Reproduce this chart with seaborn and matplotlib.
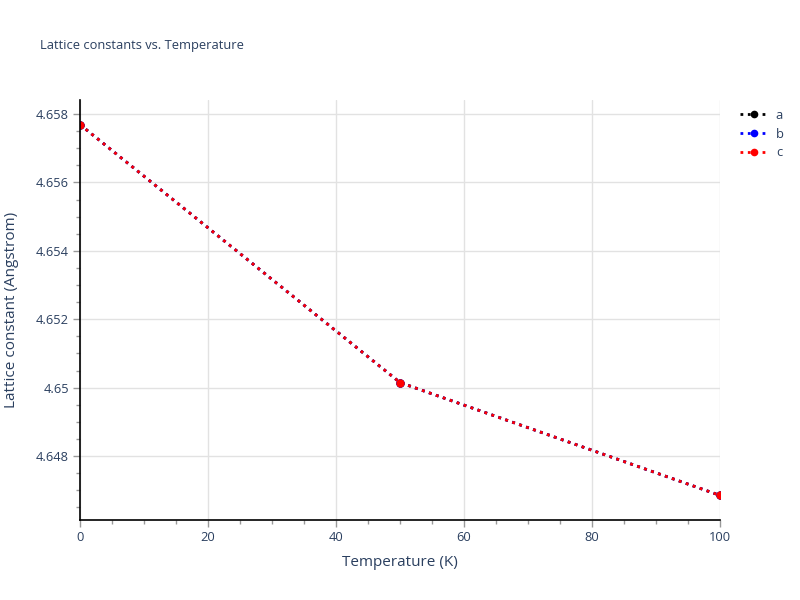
import numpy as np
import pandas as pd
import matplotlib
matplotlib.use("Agg")
import matplotlib.pyplot as plt
import seaborn as sns
from matplotlib.ticker import MultipleLocator, FuncFormatter

temperature = [0, 50, 100]
lattice_a = [4.65769, 4.65015, 4.64685]
lattice_b = [4.65769, 4.65015, 4.64685]
lattice_c = [4.65769, 4.65015, 4.64685]
series_names = ["a", "b", "c"]
series_colors = ["black", "blue", "red"]

df = pd.concat([
    pd.DataFrame({"Temperature": temperature, "value": vals, "axis": name})
    for name, vals in zip(series_names, [lattice_a, lattice_b, lattice_c])
])

sns.set_style("white")
plt.rcParams["font.family"] = ["Open Sans", "DejaVu Sans"]
text_color = "#2a3f5f"

fig = plt.figure(figsize=(8, 6), dpi=100)
ax = fig.add_axes([0.1, 0.1333, 0.8, 0.7])

sns.lineplot(data=df, x="Temperature", y="value", hue="axis",
             palette=dict(zip(series_names, series_colors)),
             linestyle=":", linewidth=2, marker="o", markersize=6,
             markeredgewidth=0, ax=ax, legend=False)

ax.set_xlim(0, 100)
ax.set_ylim(4.64613, 4.65841)
ax.xaxis.set_major_locator(MultipleLocator(20))
ax.xaxis.set_minor_locator(MultipleLocator(5))
ax.yaxis.set_major_locator(MultipleLocator(0.002))
ax.yaxis.set_minor_locator(MultipleLocator(0.0005))
ax.yaxis.set_major_formatter(FuncFormatter(lambda v, p: f"{v:.3f}".rstrip("0").rstrip(".")))
ax.xaxis.set_major_formatter(FuncFormatter(lambda v, p: f"{v:g}"))

ax.grid(True, which="major", color="#e2e2e2", linewidth=1)
ax.set_axisbelow(True)
for side in ["top", "right"]:
    ax.spines[side].set_visible(False)
for side in ["left", "bottom"]:
    ax.spines[side].set_color("black")
    ax.spines[side].set_linewidth(1.2)

ax.tick_params(which="major", direction="out", length=5, width=1, color="#999999",
               labelsize=9.3, labelcolor=text_color, bottom=True, left=True, pad=3)
ax.tick_params(which="minor", direction="out", length=3, width=1, color="#999999",
               bottom=True, left=True)

ax.set_xlabel("Temperature (K)", fontsize=11, color=text_color, labelpad=8)
ax.set_ylabel("Lattice constant (Angstrom)", fontsize=11, color=text_color, labelpad=12)

fig.text(0.05, 0.925, "Lattice constants vs. Temperature", fontsize=9.3,
         color=text_color, ha="left", va="center")

handles = [plt.Line2D([], [], color=c, linestyle=":", linewidth=2, marker="o",
                      markersize=5.5, markeredgewidth=0) for c in series_colors]
fig.legend(handles, series_names, loc="upper left", bbox_to_anchor=(0.91, 0.838),
           frameon=False, fontsize=9.3, labelcolor=text_color, handlelength=2.2,
           handletextpad=0.6, labelspacing=0.45)

fig.savefig("out.png", dpi=100)
